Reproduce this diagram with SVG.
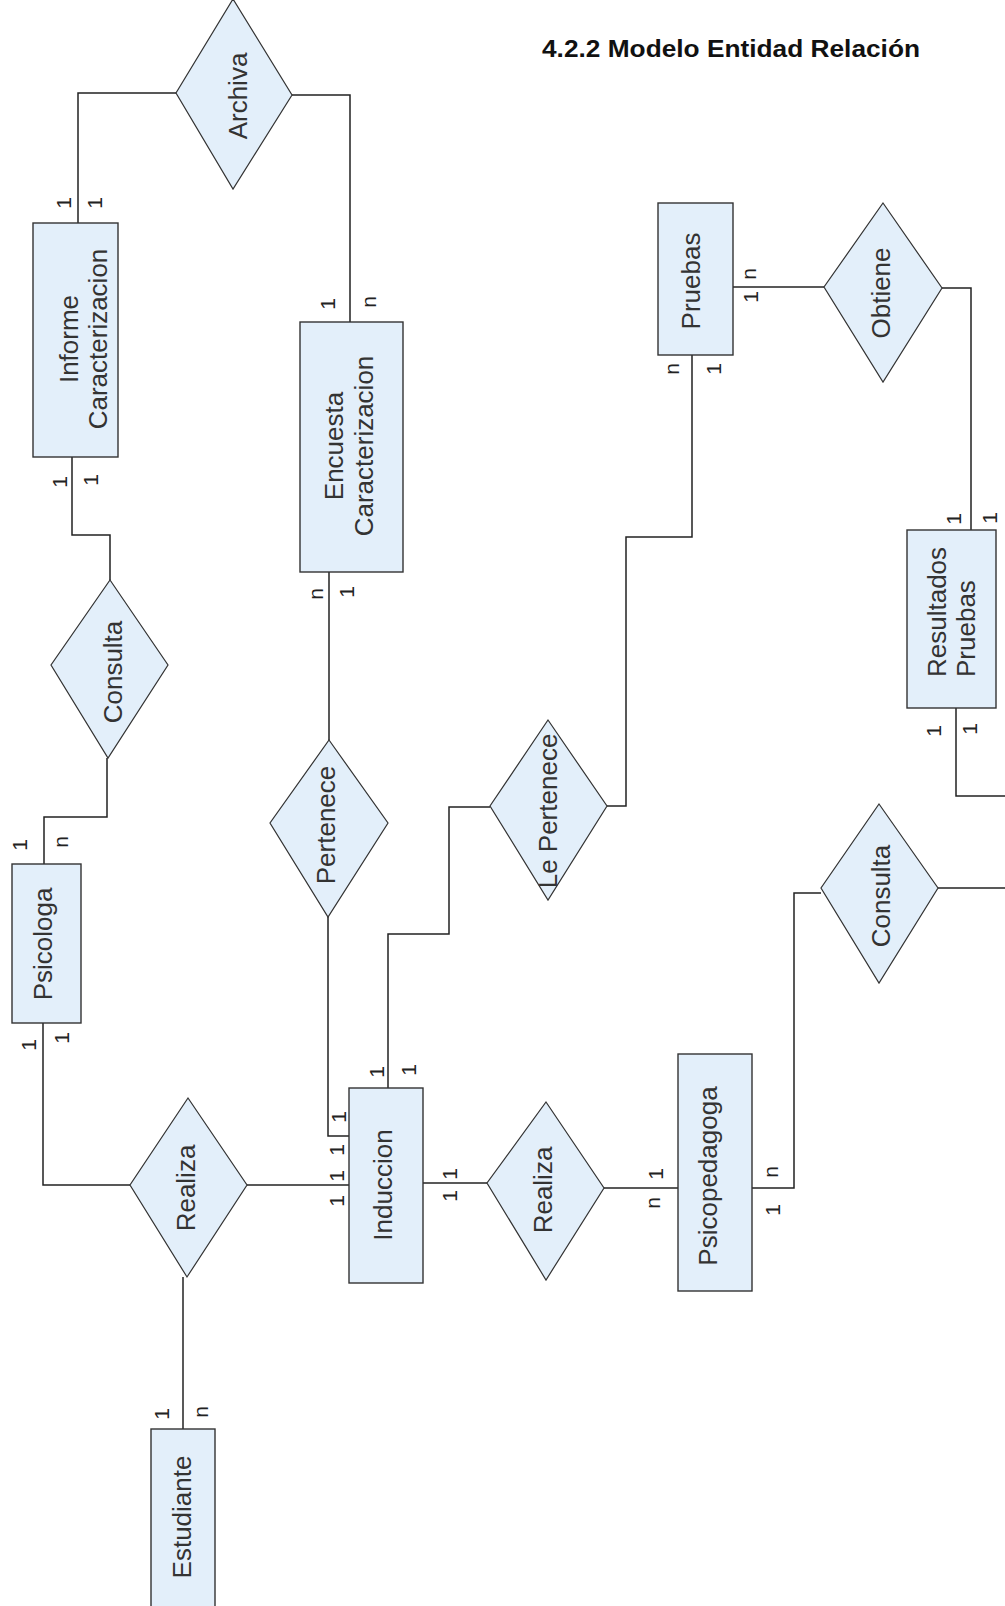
<svg xmlns="http://www.w3.org/2000/svg" width="1005" height="1606" viewBox="0 0 1005 1606">
<style>
.ent{fill:#e3effa;stroke:#333;stroke-width:1.4}
.rel{fill:#e3effa;stroke:#333;stroke-width:1.2}
.con{fill:none;stroke:#222;stroke-width:1.5}
.lbl{font-family:"Liberation Sans",Arial,sans-serif;font-size:26px;fill:#333;text-anchor:middle}
.card{font-family:"Liberation Sans",Arial,sans-serif;font-size:21px;fill:#222;text-anchor:middle}
.title{font-family:"Liberation Sans",Arial,sans-serif;font-size:23px;font-weight:bold;fill:#111}
</style>
<rect width="1005" height="1606" fill="#fff"/>
<text class="title" x="542" y="57" textLength="378" lengthAdjust="spacingAndGlyphs">4.2.2 Modelo Entidad Relación</text>
<g id="connectors">
<path class="con" d="M78,223 V93 H176"/>
<path class="con" d="M292,95 H350 V322"/>
<path class="con" d="M72,457 V535 H110 V580"/>
<path class="con" d="M107,758 V817 H44 V864"/>
<path class="con" d="M329,572 V740"/>
<path class="con" d="M328,917 V1136 H349"/>
<path class="con" d="M43,1023 V1185 H130"/>
<path class="con" d="M247,1185 H349"/>
<path class="con" d="M183,1277 V1429"/>
<path class="con" d="M388,1088 V934 H449 V807 H490"/>
<path class="con" d="M607,806 H626 V537 H692 V355"/>
<path class="con" d="M423,1183 H487"/>
<path class="con" d="M604,1188 H678"/>
<path class="con" d="M752,1188 H794 V893 H821"/>
<path class="con" d="M938,888 H1005"/>
<path class="con" d="M733,287 H824"/>
<path class="con" d="M942,288 H971 V530"/>
<path class="con" d="M956,708 V796 H1005"/>
</g>
<g id="informe">
<rect class="ent" x="33" y="223" width="85" height="234"/>
<text class="lbl" transform="translate(78,339) rotate(-90)"><tspan x="0" y="0">Informe</tspan><tspan x="0" y="29">Caracterizacion</tspan></text>
</g>
<g id="encuesta">
<rect class="ent" x="300" y="322" width="103" height="250"/>
<text class="lbl" transform="translate(343,446) rotate(-90)"><tspan x="0" y="0">Encuesta</tspan><tspan x="0" y="30">Caracterizacion</tspan></text>
</g>
<g id="psicologa">
<rect class="ent" x="12" y="864" width="69" height="159"/>
<text class="lbl" transform="translate(52,944) rotate(-90)">Psicologa</text>
</g>
<g id="induccion">
<rect class="ent" x="349" y="1088" width="74" height="195"/>
<text class="lbl" transform="translate(392,1185) rotate(-90)">Induccion</text>
</g>
<g id="psicopedagoga">
<rect class="ent" x="678" y="1054" width="74" height="237"/>
<text class="lbl" transform="translate(717,1176) rotate(-90)">Psicopedagoga</text>
</g>
<g id="estudiante">
<rect class="ent" x="151" y="1429" width="64" height="190"/>
<text class="lbl" transform="translate(191,1517) rotate(-90)">Estudiante</text>
</g>
<g id="pruebas">
<rect class="ent" x="658" y="203" width="75" height="152"/>
<text class="lbl" transform="translate(700,281) rotate(-90)">Pruebas</text>
</g>
<g id="resultados">
<rect class="ent" x="907" y="530" width="89" height="178"/>
<text class="lbl" style="text-anchor:start" transform="translate(946,677) rotate(-90)"><tspan x="0" y="0">Resultados</tspan><tspan x="0" y="29">Pruebas</tspan></text>
</g>
<g id="archiva">
<polygon class="rel" points="233,-1 292,95 233,189 176,93"/>
<text class="lbl" transform="translate(247,96) rotate(-90)">Archiva</text>
</g>
<g id="consulta1">
<polygon class="rel" points="110,580 168,665 108,758 51,665"/>
<text class="lbl" transform="translate(122,672) rotate(-90)">Consulta</text>
</g>
<g id="pertenece">
<polygon class="rel" points="329,740 388,823 328,917 270,823"/>
<text class="lbl" transform="translate(335,825) rotate(-90)">Pertenece</text>
</g>
<g id="realiza1">
<polygon class="rel" points="188,1098 247,1185 187,1277 130,1185"/>
<text class="lbl" transform="translate(195,1188) rotate(-90)">Realiza</text>
</g>
<g id="realiza2">
<polygon class="rel" points="546,1102 604,1188 546,1280 487,1183"/>
<text class="lbl" transform="translate(552,1190) rotate(-90)">Realiza</text>
</g>
<g id="lepertenece">
<polygon class="rel" points="548,720 607,806 548,900 490,806"/>
<text class="lbl" transform="translate(557,811) rotate(-90)">Le Pertenece</text>
</g>
<g id="obtiene">
<polygon class="rel" points="883,203 942,288 883,382 824,287"/>
<text class="lbl" transform="translate(890,293) rotate(-90)">Obtiene</text>
</g>
<g id="consulta2">
<polygon class="rel" points="879,804 938,888 879,983 821,888"/>
<text class="lbl" transform="translate(890,896) rotate(-90)">Consulta</text>
</g>
<g id="cardinalities">
<text class="card" transform="translate(70.5,203) rotate(-90)">1</text>
<text class="card" transform="translate(101.5,203) rotate(-90)">1</text>
<text class="card" transform="translate(334.5,304) rotate(-90)">1</text>
<text class="card" transform="translate(375.5,302) rotate(-90)">n</text>
<text class="card" transform="translate(66.5,482) rotate(-90)">1</text>
<text class="card" transform="translate(97.5,480) rotate(-90)">1</text>
<text class="card" transform="translate(26.5,845) rotate(-90)">1</text>
<text class="card" transform="translate(67.5,842) rotate(-90)">n</text>
<text class="card" transform="translate(322.5,594) rotate(-90)">n</text>
<text class="card" transform="translate(353.5,592) rotate(-90)">1</text>
<text class="card" transform="translate(35.5,1045) rotate(-90)">1</text>
<text class="card" transform="translate(68.5,1038) rotate(-90)">1</text>
<text class="card" transform="translate(345.5,1117) rotate(-90)">1</text>
<text class="card" transform="translate(343.5,1150) rotate(-90)">1</text>
<text class="card" transform="translate(343.5,1176) rotate(-90)">1</text>
<text class="card" transform="translate(343.5,1201) rotate(-90)">1</text>
<text class="card" transform="translate(383.5,1072) rotate(-90)">1</text>
<text class="card" transform="translate(415.5,1070) rotate(-90)">1</text>
<text class="card" transform="translate(456.5,1174) rotate(-90)">1</text>
<text class="card" transform="translate(456.5,1196) rotate(-90)">1</text>
<text class="card" transform="translate(662.5,1174) rotate(-90)">1</text>
<text class="card" transform="translate(659.5,1203) rotate(-90)">n</text>
<text class="card" transform="translate(777.5,1172) rotate(-90)">n</text>
<text class="card" transform="translate(779.5,1210) rotate(-90)">1</text>
<text class="card" transform="translate(755.5,274) rotate(-90)">n</text>
<text class="card" transform="translate(757.5,297) rotate(-90)">1</text>
<text class="card" transform="translate(678.5,369) rotate(-90)">n</text>
<text class="card" transform="translate(720.5,369) rotate(-90)">1</text>
<text class="card" transform="translate(960.5,519) rotate(-90)">1</text>
<text class="card" transform="translate(996.5,518) rotate(-90)">1</text>
<text class="card" transform="translate(940.5,731) rotate(-90)">1</text>
<text class="card" transform="translate(976.5,729) rotate(-90)">1</text>
<text class="card" transform="translate(168.5,1414) rotate(-90)">1</text>
<text class="card" transform="translate(207.5,1412) rotate(-90)">n</text>
</g>
</svg>
